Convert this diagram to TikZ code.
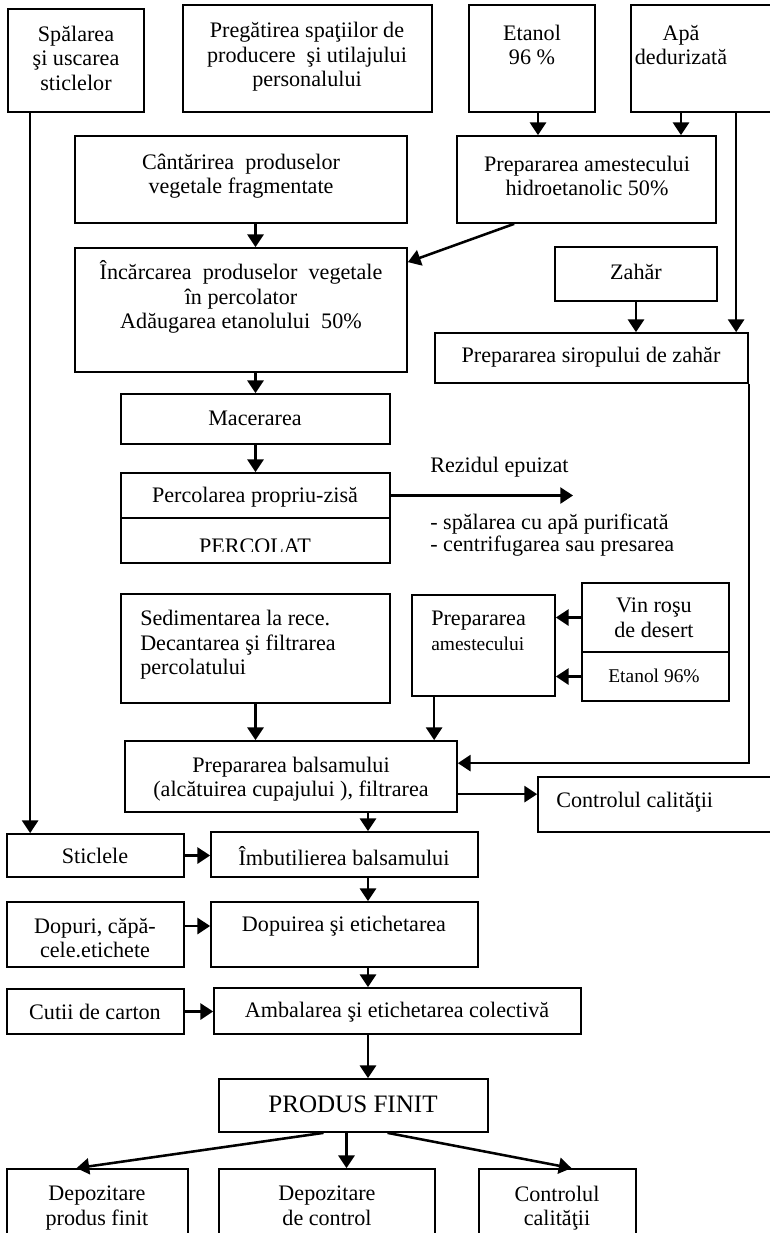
\documentclass[tikz,border=0pt]{standalone}
\usepackage{fontspec}
\setmainfont{Liberation Serif}
\usetikzlibrary{arrows.meta,fit,calc}
\tikzset{
  box/.style={draw,line width=1.3pt,inner sep=0pt},
  txt/.style={align=center,inner sep=0pt,font=\fontsize{16.6}{18.4}\selectfont},
  ltxt/.style={txt,align=left},
  arr/.style={line width=1.9pt,-{Triangle[length=9.5pt,width=12pt]}}
}
\newcommand{\smallt}{\fontsize{14.6}{17}\selectfont}
\begin{document}
\begin{tikzpicture}[x=0.75pt,y=-0.75pt]
  \useasboundingbox (0,0) rectangle (769,1233);
  % top row
  \node[box,fit={(8,9) (144,112)}] (wash) {};
  \node[txt] (wash-t) at (76,58) {Spălarea\\şi uscarea\\sticlelor};
  \node[box,fit={(183,5) (432,112)}] (prep) {};
  \node[txt] (prep-t) at (307,57) {Pregătirea spaţiilor de\\producere\ \ şi utilajului\\personalului};
  \node[box,fit={(469,5) (595,112)}] (etanol) {};
  \node[txt] (etanol-t) at (532,45) {Etanol\\96 \%};
  \node[box,fit={(631,5) (790,112)}] (apa) {};
  \node[txt] (apa-t) at (681,45) {Apă\\dedurizată};
  % weighing and mixing
  \node[box,fit={(75,136) (407,223)}] (weigh) {};
  \node[txt] (weigh-t) at (241,176) {Cântărirea\ \ produselor\\vegetale fragmentate};
  \node[box,fit={(457,136) (716,223)}] (hydro) {};
  \node[txt] (hydro-t) at (587,176) {Prepararea amestecului\\hidroetanolic 50\%};
  \node[box,fit={(75,248) (407,372)}] (load) {};
  \node[txt] (load-t) at (241,297) {Încărcarea\ \ produselor\ \ vegetale\\în percolator\\Adăugarea etanolului\ \ 50\%};
  \node[box,fit={(555,247) (717,301)}] (zahar) {};
  \node[txt] (zahar-t) at (636,272) {Zahăr};
  \node[box,fit={(435,333) (748,383)}] (sirop) {};
  \node[txt] (sirop-t) at (591,357) {Prepararea siropului de zahăr};
  % percolation
  \node[box,fit={(121,394) (390,444)}] (macer) {};
  \node[txt] (macer-t) at (255,418) {Macerarea};
  \node[box,fit={(121,473) (390,518)}] (perc) {};
  \node[txt] (perc-t) at (255,497) {Percolarea propriu-zisă};
  \node[box,fit={(121,518) (390,563)}] (percolat) {};
  \begin{scope}
    \clip (121,518) rectangle (390,551);
    \node[txt] (percolat-t) at (255,546) {PERCOLAT};
  \end{scope}
  \node[ltxt,anchor=west] (rez-t) at (430,467) {Rezidul epuizat};
  \node[ltxt,anchor=west,font=\fontsize{16.6}{13.6}\selectfont] (wash2-t) at (430,535)
    {- spălarea cu apă purificată\\- centrifugarea sau presarea};
  \coordinate (rez-end) at (573,495);
  % sedimentation and mixing
  \node[box,fit={(121,594) (390,703)}] (sedim) {};
  \node[ltxt,anchor=west] (sedim-t) at (140,645) {Sedimentarea la rece.\\Decantarea şi filtrarea\\percolatului};
  \node[box,fit={(412,595) (555,696)}] (prepam) {};
  \node[ltxt,anchor=west] (prepam-t) at (431,631) {Prepararea\\{\smallt amestecului}};
  \node[box,fit={(582,583) (729,652)}] (vin) {};
  \node[txt] (vin-t) at (654,618) {Vin roşu\\de desert};
  \node[box,fit={(582,652) (729,701)}] (etanol2) {};
  \node[txt] (etanol2-t) at (654,676) {\smallt Etanol 96\%};
  \node[box,fit={(125,741) (457,812)}] (balsam) {};
  \node[txt] (balsam-t) at (291,779) {Prepararea balsamului\\(alcătuirea cupajului ), filtrarea};
  \node[box,fit={(538,777) (790,832)}] (control1) {};
  \node[ltxt,anchor=west] (control1-t) at (556,802) {Controlul calităţii};
  % bottling and packing
  \node[box,fit={(7,834) (184,877)}] (sticlele) {};
  \node[txt] (sticlele-t) at (95,856) {Sticlele};
  \node[box,fit={(211,832) (478,877)}] (imb) {};
  \node[txt] (imb-t) at (344,856) {Îmbutilierea balsamului};
  \node[box,fit={(7,902) (184,967)}] (dopuri) {};
  \node[txt] (dopuri-t) at (95,938) {Dopuri, căpă-\\cele.etichete};
  \node[box,fit={(211,902) (478,967)}] (dopuire) {};
  \node[txt] (dopuire-t) at (344,926) {Dopuirea şi etichetarea};
  \node[box,fit={(7,989) (184,1034)}] (cutii) {};
  \node[txt] (cutii-t) at (95,1012) {Cutii de carton};
  \node[box,fit={(214,988) (581,1034)}] (ambal) {};
  \node[txt] (ambal-t) at (397,1012) {Ambalarea şi etichetarea colectivă};
  \node[box,fit={(219,1079) (488,1132)}] (produs) {};
  \node[txt,font=\fontsize{18.8}{20}\selectfont] (produs-t) at (353,1104) {PRODUS FINIT};
  \node[box,fit={(7,1169) (188,1250)}] (dep1) {};
  \node[txt] (dep1-t) at (97,1208) {Depozitare\\produs finit};
  \node[box,fit={(219,1169) (435,1250)}] (dep2) {};
  \node[txt] (dep2-t) at (327,1208) {Depozitare\\de control\vphantom{p}};
  \node[box,fit={(479,1169) (636,1250)}] (ctrl2) {};
  \node[txt] (ctrl2-t) at (557,1208) {Controlul\\calităţii\vphantom{p}};
  % connectors
  \coordinate (wline) at ($(wash.south west)+(23,0)$);
  \coordinate (e1) at ($(etanol.south)+(6,0)$);
  \coordinate (a2) at ($(apa.south west)+(106,0)$);
  \coordinate (p1) at ($(prepam.south west)+(23,0)$);
  \coordinate (b1) at ($(balsam.north east)+(0,54)$);
  \coordinate (spine) at (368,0);
  \coordinate (pd) at ($(produs.south)+(-7,0)$);
  \draw[arr] (wline) -- (wline |- sticlele.north);
  \draw[arr] (e1) -- (e1 |- hydro.north);
  \draw[arr] (apa-t |- apa.south) -- (apa-t |- hydro.north);
  \draw[arr] (a2) -- (a2 |- sirop.north);
  \draw[arr] (macer |- weigh.south) -- (macer |- load.north);
  \draw[arr] ($(hydro.south west)+(58,0)$) -- ($(load.north east)+(0,15)$);
  \draw[arr] (zahar.south) -- (zahar.south |- sirop.north);
  \draw[arr] (macer |- load.south) -- (macer.north);
  \draw[arr] (macer.south) -- (perc.north);
  \draw[arr] (perc.east) -- (perc.east -| rez-end);
  \draw[arr] (sedim.south) -- (sedim.south |- balsam.north);
  \draw[arr] (p1) -- (p1 |- balsam.north);
  \draw[arr] (vin.west) -- (vin.west -| prepam.east);
  \draw[arr] (etanol2.west) -- (etanol2.west -| prepam.east);
  \draw[arr] (sirop.south east) |- ($(balsam.north east)+(0,23)$);
  \draw[arr] (b1) -- (b1 -| control1.west);
  \draw[arr] (spine |- balsam.south) -- (spine |- imb.north);
  \draw[arr] (sticlele.east) -- (sticlele.east -| imb.west);
  \draw[arr] (spine |- imb.south) -- (spine |- dopuire.north);
  \draw[arr] (dopuri.east |- dopuire-t) -- (dopuire.west |- dopuire-t);
  \draw[arr] (spine |- dopuire.south) -- (spine |- ambal.north);
  \draw[arr] (cutii.east) -- (cutii.east -| ambal.west);
  \draw[arr] (spine |- ambal.south) -- (spine |- produs.north);
  \draw[arr] ($(produs.south)+(-30,0)$) -- ($(dep1.north)+(-21,0)$);
  \draw[arr] (pd) -- (pd |- dep2.north);
  \draw[arr] ($(produs.south)+(34,0)$) -- ($(ctrl2.north)+(14,0)$);
\end{tikzpicture}
\end{document}
